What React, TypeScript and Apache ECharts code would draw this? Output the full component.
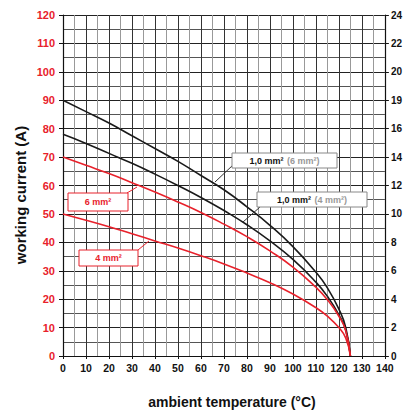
import React, { useEffect, useRef } from "react";
import * as echarts from "echarts";

const temps = [0, 10, 20, 30, 40, 50, 60, 70, 80, 90, 100, 110, 115, 120, 123, 125];
const black6mm = [90, 86, 82, 77.5, 73, 68.5, 63.5, 58.5, 52.5, 46, 38.5, 29.5, 24, 16.5, 10, 0];
const black4mm = [78, 74.8, 71.3, 67.8, 64, 60, 55.8, 51.2, 46.2, 40.5, 34, 26, 21, 14.5, 9, 0];
const red6mm = [70, 67.1, 64.2, 61, 57.7, 54.2, 50.5, 46.4, 42, 37, 31.3, 24.2, 19.8, 14, 8.9, 0];
const red4mm = [50, 47.8, 45.5, 43, 40.5, 38, 35.3, 32.4, 29.2, 25.8, 21.8, 17, 14, 10, 6.3, 0];
const rightTickLabels = ["0", "2", "4", "6", "8", "10", "12", "14", "16", "19", "20", "22", "24"];

const FONT = "'Liberation Sans', Arial, sans-serif";
const RED = "#e8212b";

export default function App() {
  const ref = useRef<HTMLDivElement>(null);
  useEffect(() => {
    document.body.style.margin = "0";
    const chart = echarts.init(ref.current!, null, { renderer: "svg" });
    const pair = (arr: number[]) => temps.map((t, i) => [t, arr[i]]);
    const lineSeries = (data: number[], color: string) => ({
      type: "line",
      data: pair(data),
      smooth: true,
      showSymbol: false,
      symbol: "none",
      lineStyle: { color, width: 1.6 },
      yAxisIndex: 0,
      z: 5,
    });
    chart.setOption({
      animation: false,
      textStyle: { fontFamily: FONT },
      grid: { left: 63, right: 19, top: 15, bottom: 56 },
      xAxis: {
        type: "value",
        min: 0,
        max: 140,
        interval: 10,
        axisLine: { show: true, onZero: false, lineStyle: { color: "#111", width: 1.2 } },
        axisTick: { show: true, length: 3, lineStyle: { color: "#111" } },
        axisLabel: { color: "#111", fontWeight: "bold", fontSize: 10.5, margin: 6, fontFamily: FONT },
        splitLine: { show: true, lineStyle: { color: "#333", width: 1 } },
        minorTick: { show: false, splitNumber: 2 },
        minorSplitLine: { show: true, lineStyle: { color: "#999", width: 1 } },
      },
      yAxis: [
        {
          type: "value",
          min: 0,
          max: 120,
          interval: 10,
          position: "left",
          axisLine: { show: true, lineStyle: { color: "#111", width: 1.2 } },
          axisTick: { show: true, length: 4, lineStyle: { color: "#111" } },
          axisLabel: { color: RED, fontWeight: "bold", fontSize: 11, margin: 8, fontFamily: FONT },
          splitLine: { show: true, lineStyle: { color: "#222", width: 1 } },
          minorTick: { show: false, splitNumber: 2 },
          minorSplitLine: { show: true, lineStyle: { color: "#555", width: 1 } },
        },
        {
          type: "value",
          min: 0,
          max: 24,
          interval: 2,
          position: "right",
          axisLine: { show: true, lineStyle: { color: "#111", width: 1.2 } },
          axisTick: { show: true, length: 4, lineStyle: { color: "#111" } },
          axisLabel: {
            color: "#111",
            fontWeight: "bold",
            fontSize: 10,
            margin: 6,
            fontFamily: FONT,
            formatter: (v: number) => rightTickLabels[Math.round(v / 2)] ?? "",
          },
          splitLine: { show: false },
        },
      ],
      series: [
        lineSeries(black6mm, "#1a1a1a"),
        lineSeries(black4mm, "#1a1a1a"),
        lineSeries(red6mm, RED),
        lineSeries(red4mm, RED),
      ],
      graphic: [
        {
          type: "text",
          x: 232,
          y: 402,
          style: {
            text: "ambient temperature (°C)",
            fill: "#111",
            font: `bold 14px ${FONT}`,
            align: "center",
            verticalAlign: "middle",
          },
        },
        {
          type: "text",
          x: 20,
          y: 195,
          rotation: Math.PI / 2,
          style: {
            text: "working current (A)",
            fill: "#111",
            font: `bold 15px ${FONT}`,
            align: "center",
            verticalAlign: "middle",
          },
        },
        { type: "line", shape: { x1: 233, y1: 165, x2: 215, y2: 182 }, style: { stroke: "#333", lineWidth: 1 }, z: 10 },
        { type: "line", shape: { x1: 260, y1: 207, x2: 243, y2: 222 }, style: { stroke: "#333", lineWidth: 1 }, z: 10 },
        { type: "line", shape: { x1: 127, y1: 193, x2: 137, y2: 187 }, style: { stroke: RED, lineWidth: 1 }, z: 10 },
        { type: "line", shape: { x1: 138, y1: 250, x2: 149, y2: 241 }, style: { stroke: RED, lineWidth: 1 }, z: 10 },
        { type: "rect", shape: { x: 232, y: 153, width: 105, height: 15 }, style: { fill: "#fff", stroke: "#888", lineWidth: 1 }, z: 10 },
        {
          type: "text",
          x: 284.5,
          y: 160.5,
          z: 11,
          style: {
            text: "{a|1,0 mm²} {b|(6 mm²)}",
            align: "center",
            verticalAlign: "middle",
            rich: {
              a: { fill: "#111", fontWeight: "bold", fontSize: 9, fontFamily: FONT },
              b: { fill: "#999", fontWeight: "bold", fontSize: 9, fontFamily: FONT },
            },
          },
        },
        { type: "rect", shape: { x: 257, y: 192, width: 110, height: 15 }, style: { fill: "#fff", stroke: "#888", lineWidth: 1 }, z: 10 },
        {
          type: "text",
          x: 312,
          y: 199.5,
          z: 11,
          style: {
            text: "{a|1,0 mm²} {b|(4 mm²)}",
            align: "center",
            verticalAlign: "middle",
            rich: {
              a: { fill: "#111", fontWeight: "bold", fontSize: 9, fontFamily: FONT },
              b: { fill: "#999", fontWeight: "bold", fontSize: 9, fontFamily: FONT },
            },
          },
        },
        { type: "rect", shape: { x: 68, y: 193, width: 60, height: 18 }, style: { fill: "#fff", stroke: RED, lineWidth: 1 }, z: 10 },
        {
          type: "text",
          x: 98,
          y: 202,
          z: 11,
          style: { text: "6 mm²", fill: RED, font: `bold 9px ${FONT}`, align: "center", verticalAlign: "middle" },
        },
        { type: "rect", shape: { x: 79, y: 250, width: 59, height: 16 }, style: { fill: "#fff", stroke: RED, lineWidth: 1 }, z: 10 },
        {
          type: "text",
          x: 108.5,
          y: 258,
          z: 11,
          style: { text: "4 mm²", fill: RED, font: `bold 9px ${FONT}`, align: "center", verticalAlign: "middle" },
        },
      ],
    });
    return () => chart.dispose();
  }, []);
  return <div ref={ref} style={{ width: 405, height: 412 }} />;
}
